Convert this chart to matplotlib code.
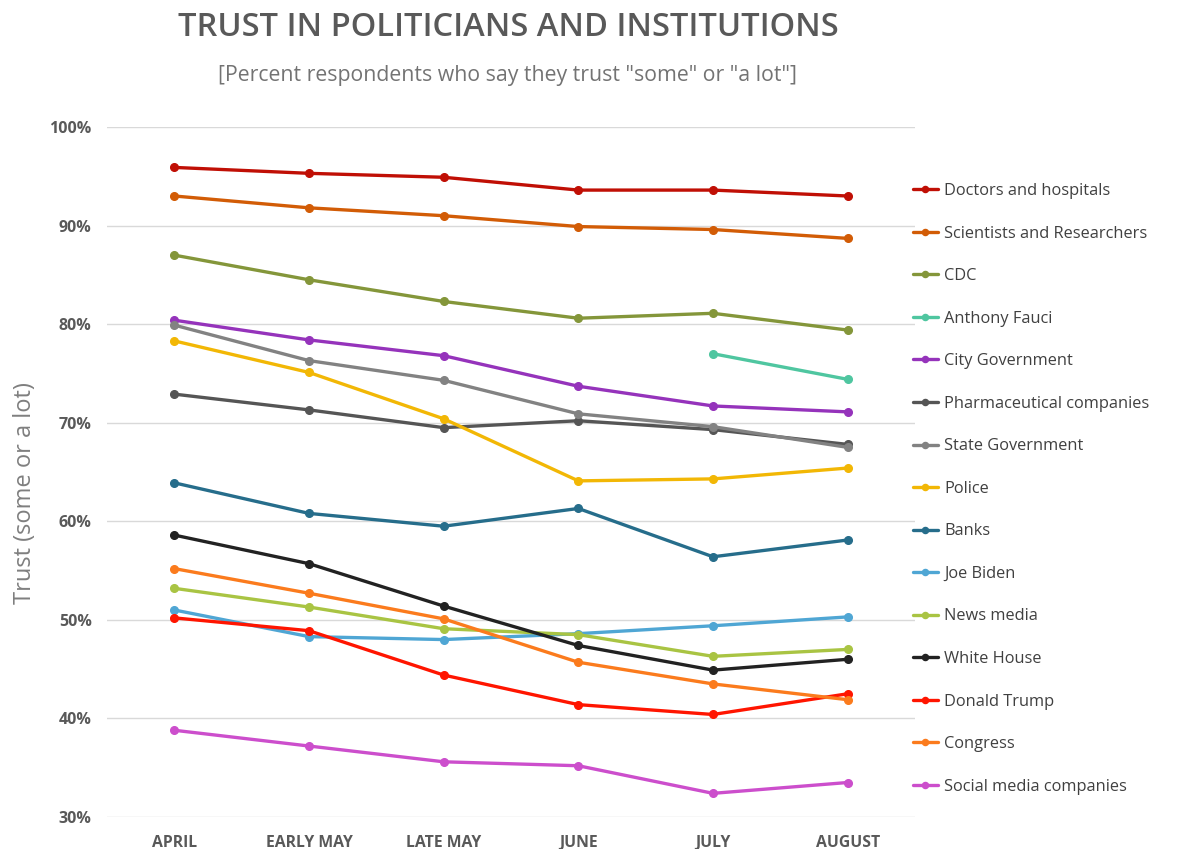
import numpy as np
import matplotlib
matplotlib.use("Agg")
import matplotlib.pyplot as plt
from matplotlib.ticker import FuncFormatter

plt.rcParams['font.family'] = ['Open Sans', 'DejaVu Sans']

periods = ["APRIL", "EARLY MAY", "LATE MAY", "JUNE", "JULY", "AUGUST"]
nan = np.nan

doctors = [95.9, 95.3, 94.9, 93.6, 93.6, 93.0]
scientists = [93.0, 91.8, 91.0, 89.9, 89.6, 88.7]
cdc = [87.0, 84.5, 82.3, 80.6, 81.1, 79.4]
fauci = [nan, nan, nan, nan, 77.0, 74.4]
city_gov = [80.4, 78.4, 76.8, 73.7, 71.7, 71.1]
pharma = [72.9, 71.3, 69.5, 70.2, 69.3, 67.8]
state_gov = [79.9, 76.3, 74.3, 70.9, 69.6, 67.5]
police = [78.3, 75.1, 70.4, 64.1, 64.3, 65.4]
banks = [63.9, 60.8, 59.5, 61.3, 56.4, 58.1]
biden = [51.0, 48.3, 48.0, 48.6, 49.4, 50.3]
news_media = [53.2, 51.3, 49.1, 48.5, 46.3, 47.0]
white_house = [58.6, 55.7, 51.4, 47.4, 44.9, 46.0]
trump = [50.2, 48.9, 44.4, 41.4, 40.4, 42.5]
congress = [55.2, 52.7, 50.1, 45.7, 43.5, 41.9]
social_media = [38.8, 37.2, 35.6, 35.2, 32.4, 33.5]

series = [
    ("Doctors and hospitals", doctors, "#c00f05"),
    ("Scientists and Researchers", scientists, "#d25c06"),
    ("CDC", cdc, "#84963a"),
    ("Anthony Fauci", fauci, "#4fc6a0"),
    ("City Government", city_gov, "#9533bb"),
    ("Pharmaceutical companies", pharma, "#555555"),
    ("State Government", state_gov, "#828282"),
    ("Police", police, "#f2b705"),
    ("Banks", banks, "#266d8b"),
    ("Joe Biden", biden, "#4fa6d4"),
    ("News media", news_media, "#a9c443"),
    ("White House", white_house, "#222222"),
    ("Donald Trump", trump, "#ff1500"),
    ("Congress", congress, "#fb7b1d"),
    ("Social media companies", social_media, "#cc4ecc"),
]

fig = plt.figure(figsize=(11.79, 8.49), dpi=100)
ax = fig.add_axes([107 / 1179, 1 - 817 / 849, 808 / 1179, 690 / 849])

x = np.arange(len(periods))
# later series sit on top
for i, (name, vals, col) in enumerate(series):
    ax.plot(x, vals, color=col, lw=2.4, marker="o", ms=5.5,
            label=name, zorder=2 + i * 0.01, solid_capstyle="round")

ax.set_xlim(-0.5, 5.5)
ax.set_ylim(30, 100)
ax.set_yticks(np.arange(30, 101, 10))
ax.yaxis.set_major_formatter(FuncFormatter(lambda v, p: f"{v:.0f}%"))
ax.set_xticks(x)
ax.set_xticklabels(periods)
ax.grid(axis="y", color="#d9d9d9", lw=1)
ax.set_axisbelow(True)
for s in ax.spines.values():
    s.set_visible(False)
ax.tick_params(length=0)
ax.tick_params(axis="y", pad=11, labelsize=11.5, labelcolor="#595959")
ax.tick_params(axis="x", pad=13, labelsize=11.3, labelcolor="#595959")
for lab in ax.get_xticklabels() + ax.get_yticklabels():
    lab.set_fontweight("bold")

ax.set_ylabel("Trust (some or a lot)", fontsize=17, color="#7f7f7f")
ax.yaxis.set_label_coords(-0.087, 0.47)

fig.text(508 / 1179, 1 - 27 / 849, "TRUST IN POLITICIANS AND INSTITUTIONS",
         ha="center", va="center", fontsize=23.5, color="#595959",
         fontweight="semibold")
fig.text(508 / 1179, 1 - 75 / 849,
         '[Percent respondents who say they trust "some" or "a lot"]',
         ha="center", va="center", fontsize=15.3, color="#737373")

leg = ax.legend(loc="upper left", bbox_to_anchor=(913 / 1179, 1 - 183 / 849),
                bbox_transform=fig.transFigure, frameon=False, fontsize=11.8,
                handlelength=1.5, handletextpad=0.42, labelspacing=1.62,
                borderaxespad=0, borderpad=0, markerscale=0.8)
for t in leg.get_texts():
    t.set_color("#404040")

fig.savefig("out.png", dpi=100)
